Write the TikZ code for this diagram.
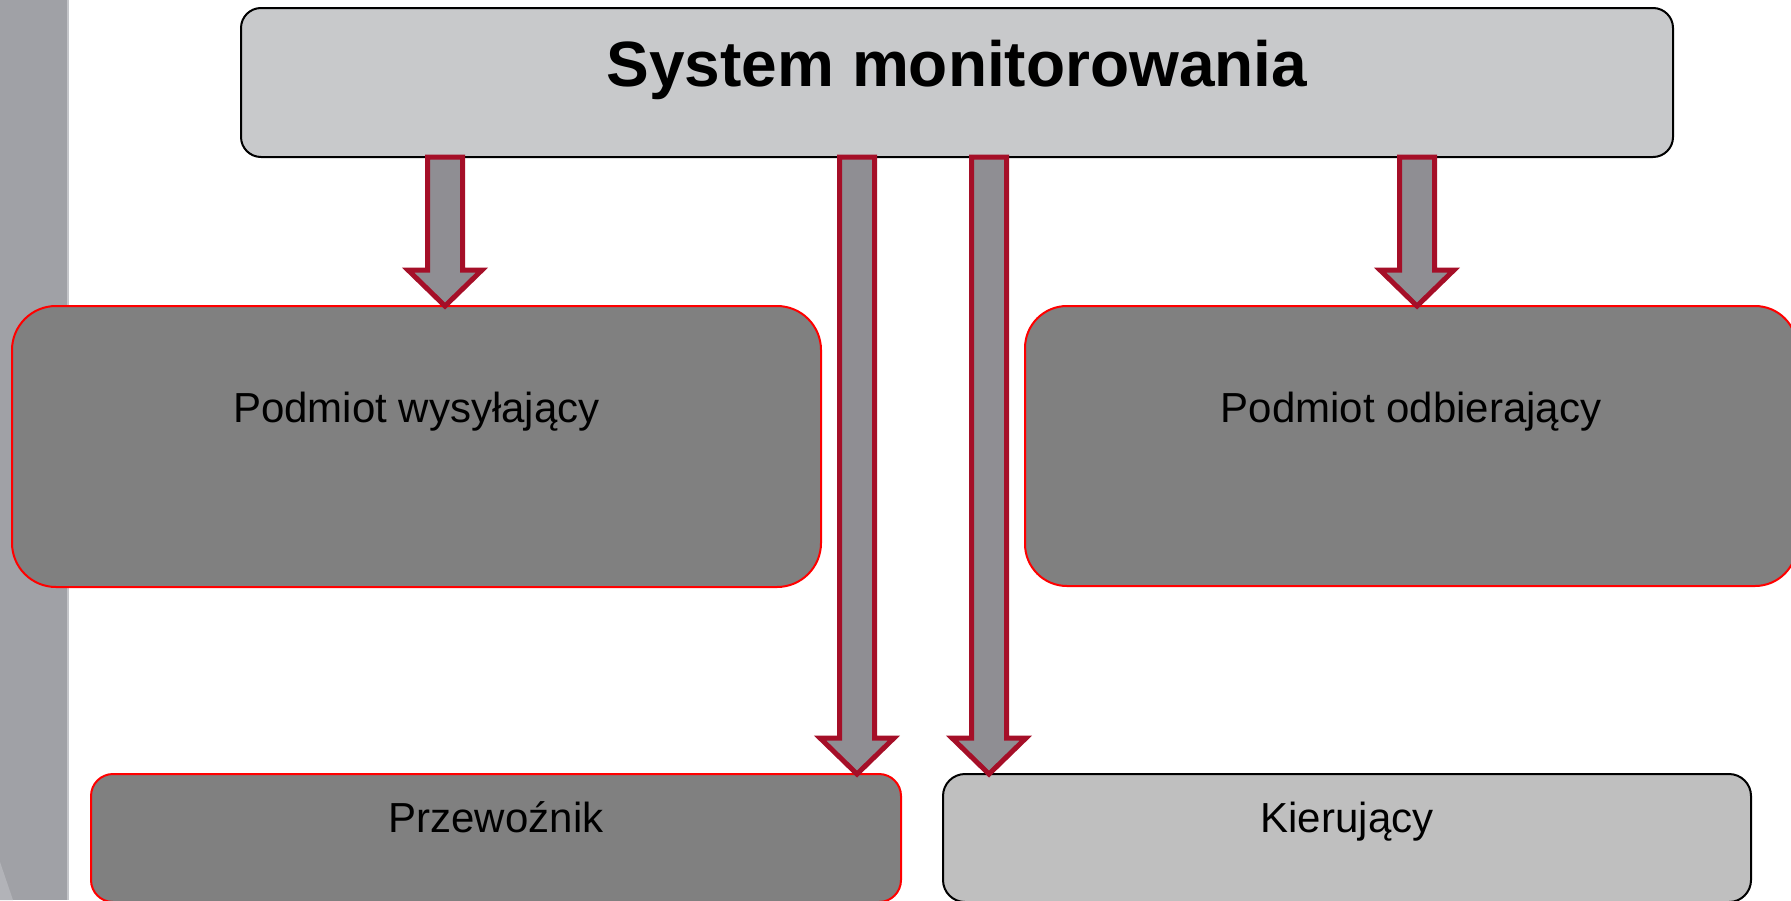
\documentclass[tikz,border=0pt]{standalone}
\usepackage{fontspec}
\setmainfont{Liberation Sans}
\usetikzlibrary{calc}
\definecolor{stripcol}{HTML}{A0A1A6}
\definecolor{stripedge}{HTML}{C4C5C9}
\definecolor{striplight}{HTML}{B2B3B8}
\definecolor{topfill}{HTML}{C8C9CB}
\definecolor{darkfill}{HTML}{808080}
\definecolor{lightfill}{HTML}{BFBFBF}
\definecolor{arrfill}{HTML}{8F8E93}
\definecolor{arrline}{HTML}{A50F28}
\newcommand\blkarrow[2]{%
  \path[blkarrow] let \p1=(#1), \p2=(#2) in
    (\x1-8.75pt,\y1) -- (\x1-8.75pt,\y2+18pt) -- (\x1-18.5pt,\y2+18pt) --
    (\x1,\y2) -- (\x1+18.5pt,\y2+18pt) -- (\x1+8.75pt,\y2+18pt) --
    (\x1+8.75pt,\y1) -- cycle;}
\begin{document}
\begin{tikzpicture}[x=0.5pt,y=-0.5pt,
  box/.style={rectangle,inner sep=0pt,outer sep=0pt,line width=1pt},
  topbox/.style={box,draw=black,fill=topfill,rounded corners=10pt},
  redbox/.style={box,draw=red,fill=darkfill},
  greybox/.style={box,draw=black,fill=lightfill,rounded corners=11pt},
  lbl/.style={anchor=base,inner sep=0pt,font=\fontsize{21}{25}\selectfont},
  blkarrow/.style={draw=arrline,fill=arrfill,line width=2.5pt,line join=miter}]
\useasboundingbox (0,0) rectangle (1791,900);
\clip (0,0) rectangle (1791,900);
% left decorative strip
\fill[stripcol] (0,0) rectangle (67,900);
\draw[stripedge,line width=1pt] (68,0) -- (68,900);
\fill[striplight] (0,862) -- (13,900) -- (0,900) -- cycle;
% boxes
\node[topbox,minimum width=716pt,minimum height=74.5pt] (sys) at (957,82.5) {};
\node[redbox,rounded corners=22pt,minimum width=404.5pt,minimum height=140.5pt] (wys) at (416.5,446.5) {};
\node[redbox,rounded corners=21pt,minimum width=386pt,minimum height=140pt] (odb) at (1411,446) {};
\node[redbox,rounded corners=11pt,minimum width=405pt,minimum height=64pt] (prz) at (496,838) {};
\node[greybox,minimum width=404pt,minimum height=64pt] (kier) at (1347,838) {};
% labels
\node[anchor=base,inner sep=0pt,font=\fontsize{32}{38}\selectfont\bfseries] (sysT) at ([yshift=-39.25pt]sys.north) {System monitorowania};
\node[lbl] (wysT) at ([yshift=-58pt]wys.north) {Podmiot wysyłający};
\node[lbl] (odbT) at ([yshift=-58pt]odb.north) {Podmiot odbierający};
\node[lbl] (przT) at ([yshift=-29pt]prz.north) {Przewoźnik};
\node[lbl] (kierT) at ([yshift=-29pt]kier.north) {Kierujący};
% arrows
\coordinate (c1) at (445,0);
\coordinate (c2) at (857,0);
\coordinate (c3) at (989,0);
\coordinate (c4) at (1417,0);
\blkarrow{sys.south -| c1}{wys.north -| c1}
\blkarrow{sys.south -| c2}{prz.north -| c2}
\blkarrow{sys.south -| c3}{kier.north -| c3}
\blkarrow{sys.south -| c4}{odb.north -| c4}
\end{tikzpicture}
\end{document}
